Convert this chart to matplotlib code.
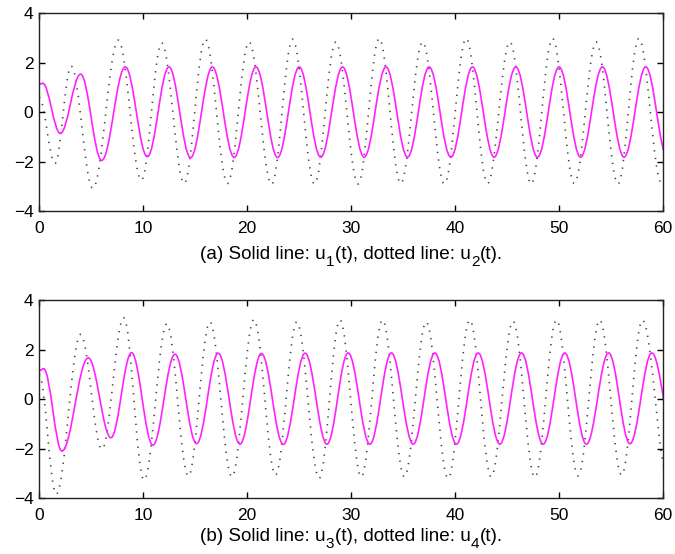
import matplotlib
matplotlib.use("Agg")
import matplotlib.pyplot as plt
from matplotlib.path import Path
from matplotlib.patches import PathPatch

plt.rcParams['font.family'] = ['Liberation Sans', 'DejaVu Sans']

# extrema (time, value); last entry may lie past t=60
u1_t = [0, 0.35, 2.05, 4.0, 6.03, 8.3, 10.42, 12.5, 14.58, 16.68, 18.78, 20.87,
        22.95, 25.03, 27.1, 29.2, 31.28, 33.38, 35.45, 37.53, 39.62, 41.7, 43.78,
        45.87, 47.95, 50.03, 52.1, 54.2, 56.28, 58.37, 60.45]
u1_v = [1.12, 1.17, -0.86, 1.54, -1.95, 1.83, -1.80, 1.83, -1.84, 1.83, -1.83, 1.83,
        -1.83, 1.83, -1.82, 1.83, -1.82, 1.83, -1.82, 1.83, -1.82, 1.83, -1.82,
        1.83, -1.82, 1.83, -1.82, 1.83, -1.82, 1.83, -1.82]

u2_t = [0, 1.54, 3.08, 5.18, 7.63, 9.85, 11.8, 13.97, 16.0, 18.14, 20.2, 22.37,
        24.4, 26.5, 28.55, 30.7, 32.72, 34.8, 36.9, 39.0, 41.1, 43.15, 45.3,
        47.35, 49.4, 51.5, 53.6, 55.7, 57.7, 59.9, 62.0]
u2_v = [0.6, -2.07, 1.86, -3.08, 2.91, -2.75, 2.8, -2.88, 2.95, -2.88, 2.84, -2.92,
        2.95, -2.9, 2.84, -2.9, 2.98, -2.88, 2.84, -2.9, 2.98, -2.88, 2.84,
        -2.9, 2.98, -2.88, 2.84, -2.9, 2.98, -2.88, 2.84]

u3_t = [0, 0.45, 2.2, 4.74, 6.92, 8.9, 10.95, 13.08, 15.16, 17.24, 19.33, 21.4,
        23.5, 25.6, 27.7, 29.74, 31.83, 33.9, 36.0, 38.08, 40.16, 42.25, 44.33,
        46.42, 48.5, 50.58, 52.66, 54.8, 56.85, 58.95, 61.2]
u3_v = [1.15, 1.23, -2.1, 1.67, -1.56, 1.88, -1.86, 1.82, -1.80, 1.86, -1.82, 1.85,
        -1.83, 1.86, -1.82, 1.87, -1.82, 1.87, -1.82, 1.87, -1.82, 1.87, -1.82,
        1.87, -1.82, 1.87, -1.82, 1.87, -1.80, 1.87, -1.82]

u4_t = [0, 1.65, 4.0, 6.05, 8.15, 10.1, 12.3, 14.36, 16.44, 18.55, 20.67, 22.75,
        24.8, 26.95, 28.95, 31.0, 33.04, 35.15, 37.25, 39.35, 41.44, 43.5, 45.6,
        47.7, 49.78, 51.86, 53.94, 56.05, 58.05, 60.5]
u4_v = [1.0, -3.84, 2.62, -2.02, 3.29, -3.27, 3.05, -3.11, 3.12, -3.14, 3.22, -3.07,
        3.12, -3.2, 3.2, -3.14, 3.2, -3.14, 3.12, -3.2, 3.2, -3.14, 3.15,
        -3.16, 3.2, -3.1, 3.2, -3.07, 3.19, -3.14]

x_ticks = [0, 10, 20, 30, 40, 50, 60]
y_ticks = [-4, -2, 0, 2, 4]
y_labels = ['\u22124', '\u22122', '0', '2', '4']
# caption pieces: (text, is_subscript)
cap_a = [("(a) Solid line: u", False), ("1", True), ("(t), dotted line: u", False),
         ("2", True), ("(t).", False)]
cap_b = [("(b) Solid line: u", False), ("3", True), ("(t), dotted line: u", False),
         ("4", True), ("(t).", False)]


def wave_path(t, v, k=0.364):
    # smooth cubic segments with flat tangents at each extremum
    verts = [(t[0], v[0])]
    codes = [Path.MOVETO]
    for i in range(len(t) - 1):
        dt = t[i + 1] - t[i]
        verts += [(t[i] + k * dt, v[i]), (t[i + 1] - k * dt, v[i + 1]), (t[i + 1], v[i + 1])]
        codes += [Path.CURVE4] * 3
    return Path(verts, codes)


def caption(ax, x0, y0, pieces):
    prev = ax.text(x0, y0, pieces[0][0], transform=fig.transFigure,
                   va='baseline', ha='left', fontsize=13.6)
    for s, sub in pieces[1:]:
        prev = ax.annotate(s, xy=(1, y0), xycoords=(prev, 'figure fraction'),
                           xytext=(0.3, -4.7 if sub else 0), textcoords='offset points',
                           va='baseline', ha='left', fontsize=11 if sub else 13.6,
                           annotation_clip=False)


fig = plt.figure(figsize=(6.75, 5.54), dpi=100)
ax1 = fig.add_axes([0.0578, 0.619, 0.924, 0.357])
ax2 = fig.add_axes([0.0578, 0.101, 0.924, 0.357])

pairs = [(ax1, u1_t, u1_v, u2_t, u2_v), (ax2, u3_t, u3_v, u4_t, u4_v)]
for ax, st, sv, dt_, dv in pairs:
    ax.add_patch(PathPatch(wave_path(dt_, dv), fill=False, edgecolor='#444444',
                           linewidth=1.2, linestyle=(0, (0.8, 3.8))))
    ax.add_patch(PathPatch(wave_path(st, sv), fill=False, edgecolor='#ff22ff',
                           linewidth=1.2))
    ax.set_xlim(0, 60)
    ax.set_ylim(-4, 4)
    ax.set_xticks(x_ticks)
    ax.set_yticks(y_ticks)
    ax.set_yticklabels(y_labels)
    ax.tick_params(direction='in', top=True, right=True, length=4, width=1,
                   labelsize=12.5)
    ax.tick_params(axis='x', pad=7)
    ax.tick_params(axis='y', pad=4)
    for s in ax.spines.values():
        s.set_linewidth(1)
        s.set_color('#222222')

caption(ax1, 0.2963, 0.532, cap_a)
caption(ax2, 0.2963, 0.0235, cap_b)

fig.savefig("out.png", dpi=100)
